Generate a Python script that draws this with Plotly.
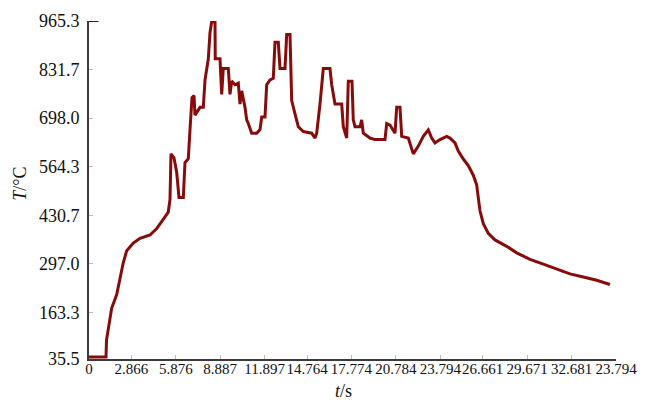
import plotly.graph_objects as go

# Temperature history T(t)
time_s = [
    0.0, 1.151, 1.185, 1.307, 1.537, 1.876, 2.099, 2.323, 2.553, 3.000,
    3.454, 4.131, 4.585, 5.032, 5.370, 5.486, 5.553, 5.756, 5.939, 6.095,
    6.386, 6.501, 6.725, 6.840, 6.976, 7.111, 7.179, 7.517, 7.741, 7.856,
    8.080, 8.195, 8.310, 8.533, 8.550, 8.871, 8.987, 9.095, 9.434, 9.549,
    9.664, 9.888, 10.111, 10.226, 10.341, 10.565, 10.680, 10.788, 11.018, 11.357,
    11.581, 11.696, 11.919, 12.034, 12.258, 12.481, 12.596, 12.820, 12.935, 13.274,
    13.389, 13.612, 13.727, 13.951, 14.174, 14.513, 15.082, 15.306, 15.421, 15.644,
    15.868, 16.321, 16.436, 16.660, 17.114, 17.222, 17.452, 17.561, 17.811, 17.899,
    18.014, 18.353, 18.468, 18.576, 19.030, 19.369, 20.046, 20.161, 20.385, 20.724,
    20.839, 21.062, 21.177, 21.624, 21.963, 22.301, 22.640, 22.979, 23.209, 23.432,
    23.771, 24.225, 24.448, 24.787, 25.010, 25.349, 25.687, 26.026, 26.256, 26.365,
    26.480, 26.703, 27.042, 27.496, 28.288, 28.965, 29.866, 30.767, 31.674, 32.575,
    33.476, 34.383, 35.284,
]
temp_c = [
    41.0, 41.0, 87.5, 122.2, 175.6, 212.9, 255.6, 301.0, 333.0, 354.3,
    367.7, 376.5, 394.3, 421.0, 439.7, 474.4, 599.8, 589.1, 549.1, 479.7,
    479.7, 575.8, 586.5, 666.5, 754.5, 759.9, 706.5, 727.8, 727.8, 802.6,
    861.2, 933.3, 963.4, 963.4, 861.2, 861.2, 763.3, 834.6, 834.6, 763.3,
    799.9, 790.0, 794.5, 736.7, 773.2, 727.8, 693.2, 683.3, 656.6, 656.6,
    666.5, 701.2, 701.2, 790.0, 803.4, 807.9, 906.6, 906.6, 834.6, 834.6,
    927.9, 927.9, 746.5, 710.0, 674.5, 661.1, 656.6, 643.3, 656.6, 736.7,
    834.6, 834.6, 790.0, 736.7, 736.7, 674.5, 643.3, 799.9, 799.9, 693.2,
    674.5, 674.5, 693.2, 656.6, 643.3, 639.0, 639.0, 683.3, 679.0, 656.6,
    727.8, 727.8, 647.8, 643.3, 599.8, 621.1, 647.8, 665.7, 643.3, 629.9,
    639.0, 647.8, 643.3, 629.9, 607.8, 585.6, 567.8, 541.1, 514.4, 478.9,
    443.2, 407.7, 381.0, 363.1, 345.5, 327.6, 309.8, 296.4, 283.1, 269.7,
    260.9, 252.1, 240.4,
]

# Axis ticks (the last label is printed as in the original figure)
x_tick_vals = [0, 2.866, 5.876, 8.887, 11.897, 14.764, 17.774, 20.784,
               23.794, 26.661, 29.671, 32.681, 35.691]
x_tick_text = ["0", "2.866", "5.876", "8.887", "11.897", "14.764", "17.774",
               "20.784", "23.794", "26.661", "29.671", "32.681", "23.794"]
y_tick_vals = [35.5, 163.3, 297.0, 430.7, 564.3, 698.0, 831.7, 965.3]
y_tick_text = ["35.5", "163.3", "297.0", "430.7", "564.3", "698.0", "831.7", "965.3"]

serif = "Liberation Serif"

fig = go.Figure()
fig.add_trace(go.Scatter(
    x=time_s, y=temp_c, mode="lines",
    line=dict(color="#870b0b", width=3),
    hoverinfo="skip", showlegend=False,
))

fig.update_layout(
    width=660, height=403,
    margin=dict(l=89, r=44, t=11, b=44),
    paper_bgcolor="white", plot_bgcolor="white",
    font=dict(family=serif, color="#111111"),
    xaxis=dict(
        range=[0, x_tick_vals[-1]], tickmode="array",
        tickvals=x_tick_vals, ticktext=x_tick_text, tickangle=0,
        tickfont=dict(size=15, family=serif, color="#111111"),
        ticks="inside", ticklen=4, tickcolor="#bdbdbd",
        ticklabelstandoff=-5,
        showline=True, linecolor="#3a3a3a", linewidth=2,
        showgrid=False, zeroline=False,
    ),
    yaxis=dict(
        range=[35.5, 965.3], tickmode="array",
        tickvals=y_tick_vals, ticktext=y_tick_text,
        tickfont=dict(size=18, family=serif, color="#111111"),
        ticks="inside", ticklen=4, tickcolor="#bdbdbd",
        ticklabelstandoff=4,
        showline=True, linecolor="#3a3a3a", linewidth=2,
        showgrid=False, zeroline=False,
    ),
    annotations=[
        dict(text="<i>t</i>/s", xref="paper", yref="paper", x=0.482, y=-0.096,
             showarrow=False, font=dict(size=18, family=serif, color="#111111"),
             xanchor="center", yanchor="middle"),
        dict(text="<i>T</i>/°C", xref="paper", yref="paper", x=-0.13, y=0.52,
             showarrow=False, textangle=-90,
             font=dict(size=18, family=serif, color="#111111"),
             xanchor="center", yanchor="middle"),
    ],
    shapes=[
        dict(type="line", xref="paper", yref="y", x0=0, x1=0.018,
             y0=965.3, y1=965.3, line=dict(color="#222222", width=2)),
    ],
)

fig.write_html("out.html")
